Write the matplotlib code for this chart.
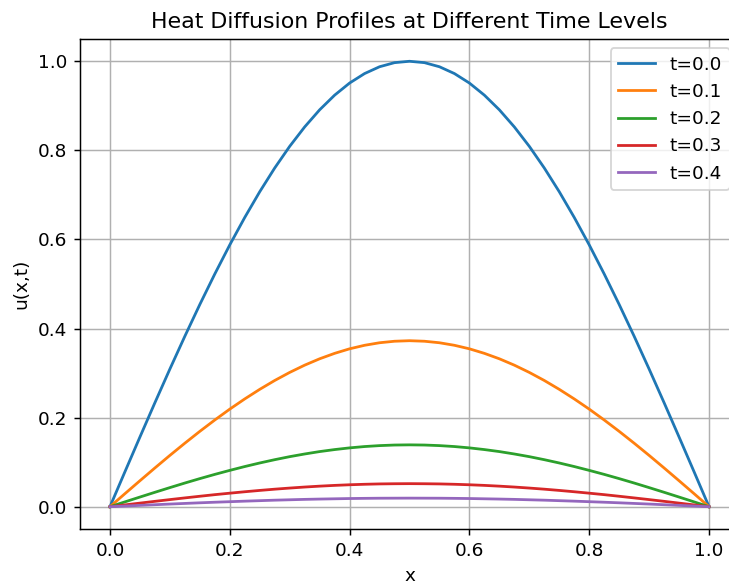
import matplotlib
matplotlib.use("Agg")
import matplotlib.pyplot as plt

x = [0.0, 0.025, 0.05, 0.075, 0.1, 0.125, 0.15, 0.175, 0.2, 0.225, 0.25,
     0.275, 0.3, 0.325, 0.35, 0.375, 0.4, 0.425, 0.45, 0.475, 0.5,
     0.525, 0.55, 0.575, 0.6, 0.625, 0.65, 0.675, 0.7, 0.725, 0.75,
     0.775, 0.8, 0.825, 0.85, 0.875, 0.9, 0.925, 0.95, 0.975, 1.0]

u_t00 = [0.0, 0.0785, 0.1564, 0.2334, 0.3090, 0.3827, 0.4540, 0.5225, 0.5878, 0.6494, 0.7071,
         0.7604, 0.8090, 0.8526, 0.8910, 0.9239, 0.9511, 0.9724, 0.9877, 0.9969, 1.0,
         0.9969, 0.9877, 0.9724, 0.9511, 0.9239, 0.8910, 0.8526, 0.8090, 0.7604, 0.7071,
         0.6494, 0.5878, 0.5225, 0.4540, 0.3827, 0.3090, 0.2334, 0.1564, 0.0785, 0.0]
u_t01 = [0.0, 0.0293, 0.0583, 0.0870, 0.1152, 0.1426, 0.1692, 0.1947, 0.2191, 0.2420, 0.2635,
         0.2834, 0.3015, 0.3178, 0.3321, 0.3443, 0.3545, 0.3624, 0.3681, 0.3715, 0.3727,
         0.3715, 0.3681, 0.3624, 0.3545, 0.3443, 0.3321, 0.3178, 0.3015, 0.2834, 0.2635,
         0.2420, 0.2191, 0.1947, 0.1692, 0.1426, 0.1152, 0.0870, 0.0583, 0.0293, 0.0]
u_t02 = [0.0, 0.0109, 0.0217, 0.0324, 0.0429, 0.0532, 0.0631, 0.0726, 0.0816, 0.0902, 0.0982,
         0.1056, 0.1124, 0.1184, 0.1238, 0.1283, 0.1321, 0.1351, 0.1372, 0.1385, 0.1389,
         0.1385, 0.1372, 0.1351, 0.1321, 0.1283, 0.1238, 0.1184, 0.1124, 0.1056, 0.0982,
         0.0902, 0.0816, 0.0726, 0.0631, 0.0532, 0.0429, 0.0324, 0.0217, 0.0109, 0.0]
u_t03 = [0.0, 0.0041, 0.0081, 0.0121, 0.0160, 0.0198, 0.0235, 0.0271, 0.0304, 0.0336, 0.0366,
         0.0394, 0.0419, 0.0442, 0.0462, 0.0479, 0.0493, 0.0504, 0.0512, 0.0516, 0.0518,
         0.0516, 0.0512, 0.0504, 0.0493, 0.0479, 0.0462, 0.0442, 0.0419, 0.0394, 0.0366,
         0.0336, 0.0304, 0.0271, 0.0235, 0.0198, 0.0160, 0.0121, 0.0081, 0.0041, 0.0]
u_t04 = [0.0, 0.0015, 0.0030, 0.0045, 0.0060, 0.0074, 0.0088, 0.0101, 0.0113, 0.0125, 0.0136,
         0.0147, 0.0156, 0.0165, 0.0172, 0.0178, 0.0184, 0.0188, 0.0191, 0.0192, 0.0193,
         0.0192, 0.0191, 0.0188, 0.0184, 0.0178, 0.0172, 0.0165, 0.0156, 0.0147, 0.0136,
         0.0125, 0.0113, 0.0101, 0.0088, 0.0074, 0.0060, 0.0045, 0.0030, 0.0015, 0.0]

series = [u_t00, u_t01, u_t02, u_t03, u_t04]
labels = ["t=0.0", "t=0.1", "t=0.2", "t=0.3", "t=0.4"]

DPI = 133
W, H = 729, 586
fig = plt.figure(figsize=(W / DPI, H / DPI), dpi=DPI)
left, right, top, bottom = 80, 739, 39, 529
ax = fig.add_axes([left / W, (H - bottom) / H, (right - left) / W, (bottom - top) / H])

for s, lab in zip(series, labels):
    ax.plot(x, s, label=lab)

ax.set_title("Heat Diffusion Profiles at Different Time Levels")
ax.set_xlabel("x")
ax.set_ylabel("u(x,t)")
ax.grid(True)
ax.legend(loc="upper right")

fig.savefig("out.png", dpi=DPI)
